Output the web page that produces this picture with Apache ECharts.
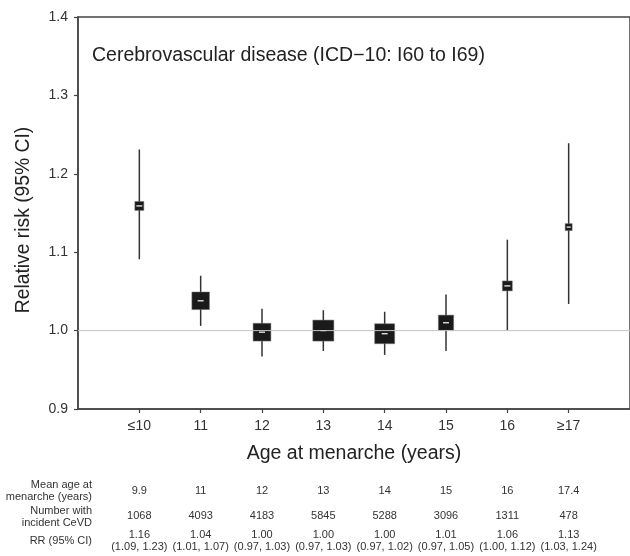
<!DOCTYPE html>
<html><head><meta charset="utf-8">
<script src="https://cdn.jsdelivr.net/npm/echarts@6/dist/echarts.min.js"></script>
<style>html,body{margin:0;padding:0;background:#fff}#c{width:630px;height:556px}</style>
</head><body><div id="c"></div>
<script>
// ---- data ----
const categories = ['≤10', '11', '12', '13', '14', '15', '16', '≥17'];
const rrPoint = [1.159, 1.038, 0.998, 1.000, 0.996, 1.010, 1.057, 1.132];
const ciLow  = [1.091, 1.006, 0.967, 0.974, 0.969, 0.974, 1.000, 1.034];
const ciHigh = [1.231, 1.070, 1.028, 1.026, 1.024, 1.046, 1.116, 1.239];
const meanAge = ['9.9', '11', '12', '13', '14', '15', '16', '17.4'];
const cases = [1068, 4093, 4183, 5845, 5288, 3096, 1311, 478];
const rrText = ['1.16', '1.04', '1.00', '1.00', '1.00', '1.01', '1.06', '1.13'];
const ciText = ['(1.09, 1.23)', '(1.01, 1.07)', '(0.97, 1.03)', '(0.97, 1.03)', '(0.97, 1.02)', '(0.97, 1.05)', '(1.00, 1.12)', '(1.03, 1.24)'];
const refValue = 1.0;

// ---- chart ----
const FONT = 'Liberation Sans, Arial, Helvetica, sans-serif';
const idx = categories.map((_, i) => i);
const chart = echarts.init(document.getElementById('c'), null, {renderer: 'canvas'});

function rowAxis(offset, fmt) {
  return {
    type: 'value', gridIndex: 0, min: -1, max: 8, position: 'bottom', offset: offset,
    axisLine: {show: false, onZero: false}, axisTick: {show: false}, splitLine: {show: false},
    axisLabel: {customValues: idx, margin: 0, fontSize: 11, lineHeight: 12, color: '#333', fontFamily: FONT,
      formatter: v => fmt(Math.round(v))}
  };
}
function rowLabel(text, y) {
  return {type: 'text', x: 92, y: y, silent: true,
    style: {text: text, fontSize: 11, lineHeight: 12, fill: '#333', align: 'right', verticalAlign: 'top', fontFamily: FONT}};
}

const option = {
  animation: false,
  backgroundColor: '#fff',
  textStyle: {fontFamily: FONT},
  title: {text: 'Cerebrovascular disease (ICD\u221210: I60 to I69)', left: 92, top: 46, padding: 0,
    textStyle: {fontSize: 19.5, fontWeight: 'normal', color: '#222', fontFamily: FONT}},
  grid: {left: 78, top: 17, width: 554, height: 392, show: true, borderColor: '#444', borderWidth: 1.5, backgroundColor: 'transparent'},
  xAxis: [
    {
      type: 'value', min: -1, max: 8, position: 'bottom',
      axisLine: {show: true, onZero: false, lineStyle: {color: '#444', width: 1.5}},
      axisTick: {show: true, customValues: idx, length: 4, lineStyle: {color: '#444', width: 1.2}},
      axisLabel: {customValues: idx, formatter: v => categories[Math.round(v)], fontSize: 14, color: '#333', margin: 10, fontFamily: FONT},
      splitLine: {show: false},
      name: 'Age at menarche (years)', nameLocation: 'middle', nameGap: 35,
      nameTextStyle: {fontSize: 19.5, color: '#222', fontFamily: FONT}
    },
    rowAxis(76, i => meanAge[i]),
    rowAxis(101, i => String(cases[i])),
    rowAxis(120, i => rrText[i] + '\n' + ciText[i])
  ],
  yAxis: {
    type: 'value', min: 0.9, max: 1.4, interval: 0.1,
    axisLine: {show: true, onZero: false, lineStyle: {color: '#444', width: 1.5}},
    axisTick: {show: true, length: 4, lineStyle: {color: '#444', width: 1.2}},
    axisLabel: {formatter: v => v.toFixed(1), fontSize: 14, color: '#333', margin: 10, fontFamily: FONT},
    splitLine: {show: false},
    name: 'Relative risk (95% CI)', nameLocation: 'middle', nameGap: 45,
    nameTextStyle: {fontSize: 19.3, color: '#222', fontFamily: FONT, padding: [0, 14, 0, 0]}
  },
  graphic: [
    rowLabel('Mean age at\nmenarche (years)', 479),
    rowLabel('Number with\nincident CeVD', 505),
    rowLabel('RR (95% CI)', 535)
  ],
  series: [
    {
      type: 'custom', xAxisIndex: 0, yAxisIndex: 0, z: 2,
      data: idx.map(i => [i, rrPoint[i], ciLow[i], ciHigh[i], cases[i]]),
      renderItem: function (params, api) {
        const x = api.value(0);
        const c = api.coord([x, api.value(1)]);
        const lo = api.coord([x, api.value(2)]);
        const hi = api.coord([x, api.value(3)]);
        const s = Math.max(7, 0.275 * Math.sqrt(api.value(4)));
        const d = Math.min(6, s - 3) / 2;
        return {type: 'group', children: [
          {type: 'line', shape: {x1: c[0], y1: lo[1], x2: c[0], y2: hi[1]}, style: {stroke: '#333', lineWidth: 1.5}},
          {type: 'rect', shape: {x: c[0] - s / 2, y: c[1] - s / 2, width: s, height: s}, style: {fill: '#1a1a1a', stroke: '#777', lineWidth: 0.5}},
          {type: 'line', shape: {x1: c[0] - d, y1: c[1], x2: c[0] + d, y2: c[1]}, style: {stroke: '#fff', lineWidth: 1.2}}
        ]};
      }
    },
    {
      type: 'line', xAxisIndex: 0, yAxisIndex: 0, z: 5, symbol: 'none', silent: true,
      data: [[-1, refValue], [8, refValue]],
      lineStyle: {color: '#c4c4c4', width: 1}
    }
  ]
};
chart.setOption(option);
</script>
</body></html>
